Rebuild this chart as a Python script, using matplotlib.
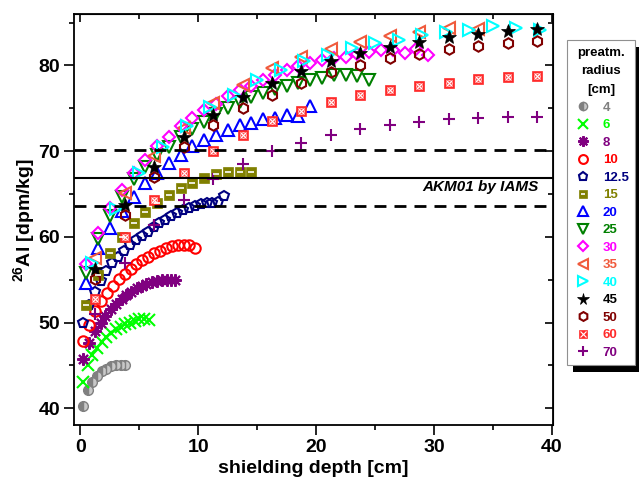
import numpy as np
import matplotlib.pyplot as plt
from matplotlib.lines import Line2D
from matplotlib.patches import Rectangle

plt.rcParams['font.family'] = ['Liberation Sans', 'DejaVu Sans']
plt.rcParams['font.weight'] = 'bold'
plt.rcParams['mathtext.fontset'] = 'custom'
plt.rcParams['mathtext.rm'] = 'Liberation Sans:bold'
plt.rcParams['mathtext.bf'] = 'Liberation Sans:bold'

# depth grids [cm]
depth_half = [0.5, 1.5, 2.5, 3.5, 4.5, 5.5, 6.5, 7.5, 8.5, 9.5, 10.5, 11.5, 12.5, 13.5, 14.5,
              15.5, 16.5, 17.5, 18.5, 19.5, 20.5, 21.5, 22.5, 23.5, 24.5, 25.5, 26.5, 27.5, 28.5, 29.5]
depth_wide = [1.25, 3.75, 6.25, 8.75, 11.25, 13.75, 16.25, 18.75, 21.25, 23.75, 26.25, 28.75,
              31.25, 33.75, 36.25, 38.75]
depth_odd = [1, 3, 5, 7, 9, 11, 13, 15, 17, 19, 21, 23, 25, 27, 29, 31, 33, 35, 37, 39]

r4_x = [0.2, 0.6, 1.0, 1.4, 1.8, 2.2, 2.6, 3.0, 3.4, 3.8]
r4_y = [40.3, 42.1, 43.1, 43.8, 44.3, 44.6, 44.9, 45.0, 45.1, 45.1]

r6_x = [0.2, 0.6, 1.0, 1.4, 1.8, 2.2, 2.6, 3.0, 3.4, 3.8, 4.2, 4.6, 5.0, 5.4, 5.8]
r6_y = [43.1, 45.0, 46.2, 47.0, 47.7, 48.3, 48.8, 49.2, 49.5, 49.8, 50.0, 50.2, 50.4, 50.4, 50.3]

r8_x = [0.2, 0.7, 1.2, 1.7, 2.1, 2.6, 3.0, 3.5, 3.9, 4.3, 4.8, 5.2, 5.6, 6.1, 6.5, 6.9, 7.3, 7.7, 8.0]
r8_y = [45.7, 47.6, 49.0, 49.9, 50.8, 51.6, 52.2, 52.7, 53.2, 53.6, 54.0, 54.3, 54.5, 54.7, 54.9,
        55.0, 55.0, 55.0, 55.0]

r10_x = [0.25, 0.75, 1.25, 1.75, 2.25, 2.75, 3.25, 3.75, 4.25, 4.75, 5.25, 5.75, 6.25, 6.75,
         7.25, 7.75, 8.25, 8.75, 9.25, 9.75]
r10_y = [47.8, 49.7, 51.4, 52.5, 53.5, 54.3, 55.1, 55.7, 56.2, 56.8, 57.3, 57.7, 58.1, 58.4,
         58.7, 58.9, 59.0, 59.0, 59.0, 58.7]

r12_x = [0.2, 0.7, 1.2, 1.7, 2.2, 2.7, 3.2, 3.7, 4.2, 4.7, 5.2, 5.7, 6.2, 6.7, 7.2, 7.7, 8.2,
         8.7, 9.2, 9.7, 10.2, 10.7, 11.2, 11.7, 12.2]
r12_y = [50.0, 52.0, 53.6, 54.9, 56.0, 56.9, 57.7, 58.4, 59.0, 59.6, 60.1, 60.6, 61.1, 61.6,
         62.0, 62.4, 62.8, 63.1, 63.4, 63.6, 63.8, 63.9, 64.0, 64.1, 64.8]

r15_y = [52.0, 55.5, 58.1, 60.0, 61.6, 62.9, 64.0, 64.9, 65.7, 66.3, 66.9, 67.3, 67.6, 67.6, 67.6]
r20_y = [54.6, 58.7, 61.0, 63.0, 64.7, 66.3, 67.5, 68.6, 69.6, 70.6, 71.3, 71.9, 72.5, 73.0,
         73.3, 73.7, 73.9, 74.2, 74.1, 75.3]
r25_y = [55.8, 59.7, 62.4, 64.6, 66.7, 68.2, 69.6, 70.5, 71.6, 72.6, 73.4, 74.3, 75.0, 75.7,
         76.3, 76.8, 77.3, 77.6, 78.0, 78.25, 78.5, 78.9, 78.9, 78.8, 78.3]
r30_y = [56.8, 60.5, 63.4, 65.5, 67.5, 69.0, 70.6, 71.6, 72.9, 73.9, 74.8, 75.5, 76.4, 77.1,
         77.6, 78.3, 78.9, 79.5, 79.9, 80.3, 80.6, 80.9, 81.0, 81.3, 81.6, 81.8, 81.75, 81.5,
         81.9, 81.25]
r35_y = [57.5, 65.1, 69.4, 72.7, 75.6, 77.7, 79.7, 81.0, 81.9, 82.7, 83.4, 83.85, 84.35, 84.2]
r40_y = [57.0, 63.2, 67.5, 70.5, 72.9, 75.2, 76.6, 78.3, 79.5, 80.5, 81.25, 82.0, 82.6, 83.0,
         83.6, 83.85, 84.1, 84.55, 84.35, 84.1]
r45_y = [56.2, 63.7, 68.2, 71.6, 74.2, 76.3, 78.0, 79.4, 80.5, 81.4, 82.2, 82.7, 83.3, 83.7, 84.0, 84.3]
r50_y = [55.1, 62.6, 67.0, 70.5, 73.0, 75.0, 76.6, 78.0, 79.2, 80.1, 80.9, 81.3, 81.9, 82.3, 82.6, 82.8]
r60_y = [52.7, 60.0, 64.3, 67.5, 70.0, 71.9, 73.5, 74.7, 75.7, 76.5, 77.1, 77.6, 78.0, 78.4, 78.6, 78.8]
r70_y = [51.0, 56.9, 61.4, 64.3, 66.7, 68.5, 70.0, 70.9, 71.9, 72.6, 73.1, 73.4, 73.7, 73.9, 74.0, 74.0]

# AKM01 measured value and its error band
akm01 = 66.85
akm01_err = [63.55, 70.15]

radius_labels = ['4', '6', '8', '10', '12.5', '15', '20', '25', '30', '35', '40', '45', '50', '60', '70']
colors = ['#808080', '#00ff00', '#800080', '#ff0000', '#000080', '#808000', '#0000ff', '#008000',
          '#ff00ff', '#f05a3c', '#00ffff', '#000000', '#800000', '#ff2a2a', '#800080']

series = [
    (r4_x, r4_y), (r6_x, r6_y), (r8_x, r8_y), (r10_x, r10_y), (r12_x, r12_y),
    (depth_half[:15], r15_y), (depth_half[:20], r20_y), (depth_half[:25], r25_y),
    (depth_half, r30_y), (depth_wide[:14], r35_y), (depth_odd, r40_y),
    (depth_wide, r45_y), (depth_wide, r50_y), (depth_wide, r60_y), (depth_wide, r70_y),
]

ms = 7.5
mew = 1.5
styles = [
    dict(marker='o', ms=7, mfc='#808080', mfcalt='#c8c8c8', fillstyle='left', mec='#808080', mew=1),
    dict(marker='x', ms=8, mew=mew),
    dict(marker=(8, 2, 0), ms=9, mew=mew),
    dict(marker='o', ms=ms, mfc='none', mew=mew),
    dict(marker='p', ms=ms, mfc='none', mew=mew),
    dict(marker='s', ms=7, mec='#808000', mew=0.5),
    dict(marker='^', ms=8, mfc='none', mew=mew),
    dict(marker='v', ms=8, mfc='none', mew=mew),
    dict(marker='D', ms=6.5, mfc='none', mew=mew),
    dict(marker='<', ms=8, mfc='none', mew=mew),
    dict(marker='>', ms=8, mfc='none', mew=mew),
    dict(marker='*', ms=10, mew=0.5),
    dict(marker='h', ms=ms, mfc='none', mew=mew),
    dict(marker='s', ms=7, mew=0.5),
    dict(marker='+', ms=9, mew=mew),
]

fig = plt.figure(figsize=(6.39, 4.84), dpi=100)
ax = fig.add_axes([74 / 639, 1 - 425 / 484, 479 / 639, 411 / 484])

handles = []
for (xs, ys), c, st in zip(series, colors, styles):
    h, = ax.plot(xs, ys, ls='none', color=c, **st)
    handles.append(h)

# inner decoration of the olive and hatched red squares
ax.plot(series[5][0], series[5][1], ls='none', marker='_', ms=4, mew=1.2, color='white')
ax.plot(series[13][0], series[13][1], ls='none', marker='x', ms=5, mew=0.8, color='white')
ax.plot(series[13][0], series[13][1], ls='none', marker='o', ms=4, mfc='none', mew=0.6, color='white')

ax.axhline(akm01, color='black', lw=1.5)
for v in akm01_err:
    ax.axhline(v, color='black', lw=2, ls=(0, (4.3, 2.9)))
ax.text(38.9, 65.8, 'AKM01 by IAMS', ha='right', va='center', fontsize=11,
        fontweight='bold', style='italic')

ax.set_xlim(-0.55, 40.1)
ax.set_ylim(38.05, 86.0)
ax.set_xticks([0, 10, 20, 30, 40])
ax.set_xticks([5, 15, 25, 35], minor=True)
ax.set_yticks([40, 50, 60, 70, 80])
ax.set_yticks([45, 55, 65, 75, 85], minor=True)
ax.tick_params(which='major', direction='out', length=7, width=1.2, labelsize=14, pad=3)
ax.tick_params(which='minor', direction='out', length=3.5, width=1.2)
for sp in ax.spines.values():
    sp.set_linewidth(1.3)

# mirrored ticks pointing inwards on top and right
top = ax.secondary_xaxis('top')
top.set_xticks([0, 10, 20, 30, 40])
top.set_xticks([5, 15, 25, 35], minor=True)
top.tick_params(which='major', direction='in', length=6, width=1.2, labeltop=False)
top.tick_params(which='minor', direction='in', length=3.5, width=1.2)
right = ax.secondary_yaxis('right')
right.set_yticks([40, 50, 60, 70, 80])
right.set_yticks([45, 55, 65, 75, 85], minor=True)
right.tick_params(which='major', direction='in', length=6, width=1.2, labelright=False)
right.tick_params(which='minor', direction='in', length=3.5, width=1.2)

ax.set_xlabel('shielding depth [cm]', fontsize=14, fontweight='bold', labelpad=3)
ax.set_ylabel(r'$^{\mathbf{26}}$Al [dpm/kg]', fontsize=14, fontweight='bold', labelpad=0)

# legend handles with the same look as the data
leg_handles = []
for i, h in enumerate(handles):
    if i == 5:
        leg_handles.append((h, Line2D([], [], ls='none', marker='_', ms=4, mew=1.2, color='white')))
    elif i == 13:
        leg_handles.append((h, Line2D([], [], ls='none', marker='x', ms=5, mew=0.8, color='white')))
    else:
        leg_handles.append(h)

leg = fig.legend(leg_handles, radius_labels, title='preatm.\nradius\n[cm]',
                 loc='upper left', bbox_to_anchor=(567 / 639, 1 - 40 / 484), borderaxespad=0,
                 fontsize=9.5, title_fontsize=9.5, frameon=True, fancybox=False,
                 edgecolor='#909090', framealpha=1, borderpad=0.5, labelspacing=0.4,
                 handlelength=1.4, handletextpad=0.8, markerscale=0.85)
leg.get_frame().set_linewidth(0.8)
leg.get_title().set_fontweight('bold')
leg.get_title().set_multialignment('center')
leg.get_title().set_linespacing(1.75)
for t, c in zip(leg.get_texts(), colors):
    t.set_color(c)
    t.set_fontweight('bold')

# black drop shadow behind the legend box
fig.canvas.draw()
bb = leg.get_window_extent().transformed(fig.transFigure.inverted())
shadow = Rectangle((bb.x0 + 6 / 639, bb.y0 - 7 / 484), bb.width, bb.height,
                   transform=fig.transFigure, facecolor='black', edgecolor='none', zorder=4)
fig.patches.append(shadow)

plt.savefig('out.png', dpi=100)
